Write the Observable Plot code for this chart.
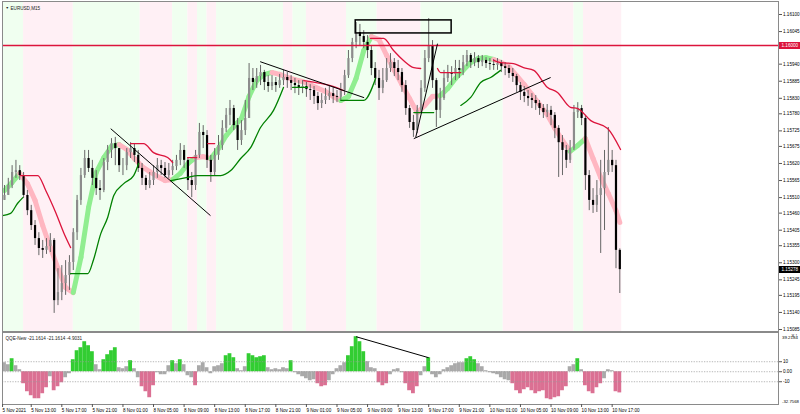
<!DOCTYPE html>
<html>
<head>
<meta charset="utf-8">
<script src="https://cdn.jsdelivr.net/npm/d3@7"></script>
<script src="https://cdn.jsdelivr.net/npm/@observablehq/plot@0.6"></script>
<style>
  html,body{margin:0;padding:0;background:#fff;}
  #chart{position:relative;width:800px;height:414px;overflow:hidden;}
  #chart svg{position:absolute;left:0;}
  .tag{position:absolute;left:779px;width:21px;height:7px;font-family:"Liberation Sans",Arial,sans-serif;font-size:4.6px;color:#fff;line-height:7px;padding-left:2.5px;box-sizing:border-box;}
</style>
</head>
<body>
<div id="chart"></div>
<script>
// ---------------- DATA ----------------
const symbolTitle = "EURUSD,M15";
const qqeName = "QQE-New";
const qqeLegendValues = [-21.1614, -21.1614, -4.9031];

// 30-minute bars, bar index 1..162
const firstOpen = 1.15501;
const closePrice = [
1.15517,1.15549,1.15591,1.15597,1.15581,1.15517,1.15468,1.15420,1.15378,1.15346,
1.15340,1.15352,1.15372,1.15178,1.15204,1.15233,1.15259,1.15301,1.15397,1.15501,
1.15581,1.15636,1.15604,1.15572,1.15539,1.15533,1.15623,1.15662,1.15684,1.15668,
1.15613,1.15613,1.15655,1.15668,1.15646,1.15604,1.15572,1.15549,1.15565,1.15591,
1.15613,1.15604,1.15581,1.15597,1.15610,1.15630,1.15662,1.15630,1.15565,1.15549,
1.15646,1.15720,1.15710,1.15630,1.15591,1.15646,1.15678,1.15733,1.15775,1.15797,
1.15742,1.15694,1.15726,1.15765,1.15894,1.15881,1.15900,1.15913,1.15881,1.15868,
1.15881,1.15871,1.15887,1.15897,1.15887,1.15878,1.15871,1.15862,1.15868,1.15858,
1.15855,1.15836,1.15813,1.15823,1.15836,1.15845,1.15836,1.15833,1.15855,1.15903,
1.15958,1.16010,1.16042,1.16029,1.16010,1.15984,1.15926,1.15894,1.15862,1.15887,
1.15926,1.15945,1.15926,1.15913,1.15871,1.15797,1.15752,1.15726,1.15791,1.15862,
1.15958,1.16000,1.15887,1.15791,1.15829,1.15894,1.15913,1.15907,1.15926,1.15920,
1.15945,1.15968,1.15945,1.15958,1.15945,1.15952,1.15942,1.15939,1.15936,1.15942,
1.15932,1.15926,1.15910,1.15900,1.15871,1.15849,1.15836,1.15829,1.15823,1.15813,
1.15797,1.15784,1.15791,1.15775,1.15733,1.15687,1.15662,1.15630,1.15668,1.15784,
1.15797,1.15765,1.15581,1.15501,1.15485,1.15517,1.15539,1.15591,1.15630,1.15613,
1.15340,1.15278];
const highPrice = [
1.15549,1.15572,1.15613,1.15630,1.15613,1.15591,1.15533,1.15485,1.15436,1.15397,
1.15372,1.15378,1.15394,1.15378,1.15281,1.15291,1.15307,1.15323,1.15410,1.15517,
1.15604,1.15662,1.15662,1.15630,1.15597,1.15565,1.15636,1.15678,1.15700,1.15704,
1.15668,1.15636,1.15668,1.15687,1.15684,1.15662,1.15620,1.15581,1.15591,1.15613,
1.15636,1.15630,1.15623,1.15620,1.15630,1.15646,1.15684,1.15678,1.15636,1.15591,
1.15662,1.15749,1.15742,1.15726,1.15646,1.15668,1.15710,1.15758,1.15797,1.15823,
1.15807,1.15765,1.15758,1.15823,1.15942,1.15926,1.15926,1.15936,1.15920,1.15903,
1.15903,1.15897,1.15907,1.15920,1.15913,1.15903,1.15894,1.15887,1.15887,1.15881,
1.15874,1.15868,1.15849,1.15845,1.15862,1.15868,1.15865,1.15855,1.15878,1.15920,
1.15984,1.16023,1.16074,1.16068,1.16048,1.16032,1.16000,1.15945,1.15920,1.15926,
1.15958,1.15974,1.15958,1.15952,1.15926,1.15887,1.15807,1.15775,1.15807,1.15887,
1.15984,1.16087,1.16016,1.15894,1.15862,1.15920,1.15936,1.15932,1.15952,1.15952,
1.15968,1.15984,1.15974,1.15977,1.15968,1.15968,1.15961,1.15958,1.15955,1.15958,
1.15952,1.15945,1.15936,1.15926,1.15907,1.15881,1.15868,1.15855,1.15845,1.15839,
1.15823,1.15810,1.15810,1.15804,1.15784,1.15742,1.15710,1.15678,1.15694,1.15807,
1.15816,1.15807,1.15775,1.15597,1.15539,1.15565,1.15630,1.15662,1.15736,1.15662,
1.15630,1.15345];
const lowPrice = [
1.15501,1.15517,1.15539,1.15572,1.15565,1.15507,1.15452,1.15404,1.15356,1.15323,
1.15314,1.15327,1.15333,1.15137,1.15162,1.15178,1.15195,1.15211,1.15275,1.15372,
1.15485,1.15572,1.15591,1.15549,1.15517,1.15501,1.15526,1.15597,1.15636,1.15613,
1.15591,1.15581,1.15597,1.15636,1.15623,1.15591,1.15549,1.15533,1.15539,1.15549,
1.15572,1.15581,1.15572,1.15572,1.15581,1.15597,1.15613,1.15604,1.15533,1.15510,
1.15533,1.15636,1.15668,1.15604,1.15559,1.15581,1.15630,1.15662,1.15720,1.15742,
1.15726,1.15662,1.15678,1.15710,1.15765,1.15855,1.15862,1.15871,1.15855,1.15849,
1.15855,1.15849,1.15862,1.15871,1.15862,1.15855,1.15845,1.15839,1.15845,1.15833,
1.15823,1.15810,1.15791,1.15797,1.15810,1.15823,1.15813,1.15816,1.15823,1.15839,
1.15894,1.15945,1.15990,1.16000,1.15990,1.15958,1.15903,1.15871,1.15823,1.15845,
1.15881,1.15913,1.15900,1.15887,1.15849,1.15775,1.15733,1.15704,1.15716,1.15784,
1.15849,1.15945,1.15862,1.15736,1.15765,1.15823,1.15881,1.15871,1.15887,1.15894,
1.15903,1.15932,1.15926,1.15932,1.15926,1.15932,1.15926,1.15920,1.15920,1.15920,
1.15913,1.15903,1.15894,1.15881,1.15849,1.15823,1.15816,1.15804,1.15797,1.15791,
1.15775,1.15765,1.15768,1.15742,1.15700,1.15575,1.15581,1.15604,1.15620,1.15662,
1.15765,1.15742,1.15533,1.15468,1.15459,1.15462,1.15330,1.15404,1.15581,1.15591,
1.15281,1.15201];

// thick trend moving average (1 = rising/green, -1 = falling/pink)
const maBar = [1,3,5,7,9,11,13,15,17,19,21,23,25,27,29,31,33,35,37,39,41,43,45,47,49,51,53,55,57,59,
61,63,65,67,69,71,73,75,77,79,81,83,85,87,89,91,93,95,97,99,101,103,105,107,109,111,113,115,117,119,
121,123,125,127,129,131,133,135,137,139,141,143,145,147,149,151,153,155,157,159,161,162];
const maPrice = [
1.15533,1.15559,1.15588,1.15555,1.15501,1.15420,1.15349,1.15282,1.15220,1.15204,
1.15317,1.15478,1.15591,1.15639,1.15675,1.15681,1.15665,1.15636,1.15610,1.15594,
1.15578,1.15565,1.15568,1.15588,1.15620,1.15639,1.15642,1.15636,1.15668,1.15710,
1.15739,1.15765,1.15836,1.15887,1.15907,1.15913,1.15907,1.15897,1.15890,1.15884,
1.15874,1.15862,1.15852,1.15836,1.15823,1.15836,1.15894,1.15984,1.16029,1.16019,
1.15968,1.15920,1.15874,1.15829,1.15784,1.15807,1.15836,1.15838,1.15862,1.15894,
1.15920,1.15945,1.15958,1.15961,1.15955,1.15945,1.15932,1.15903,1.15874,1.15842,
1.15810,1.15778,1.15733,1.15694,1.15659,1.15678,1.15700,1.15636,1.15575,1.15523,
1.15468,1.15430];
const maTrend = [
1,1,-1,-1,-1,-1,-1,-1,-1,1, 1,1,1,1,1,-1,-1,-1,-1,-1,
-1,-1,1,1,1,-1,-1,1,1,1, 1,1,1,1,1,-1,-1,-1,-1,-1,
-1,-1,-1,-1,1,1,1,1,-1,-1, -1,-1,-1,-1,-1,-1,-1,1,1,1,
1,1,1,1,-1,-1,-1,-1,-1,-1, -1,-1,-1,-1,1,1,-1,-1,-1,-1,
-1,-1];

// upper trailing line (red) and lower trailing line (dark green); null = gap
const upperBar = [5.2,9.7,11.8,14.4,16.5,18.3,null,34,37.4,40,43.7,45,null,48.9,51.3,null,54.2,56,null,
79.3,83.7,87.7,89.7,null,96.8,100.2,102.8,105.4,108.1,109.9,null,114.3,115.1,120.4,null,
129,130.8,134.2,136.8,139.5,143.1,145.7,149.1,151,154.4,158.8,162.2];
const upperPrice = [1.15581,1.15581,1.15533,1.15462,1.15397,1.15349,null,1.15684,1.15684,1.15655,1.15639,1.15623,null,1.15639,1.15639,null,1.15684,1.15684,null,
1.15887,1.15878,1.15865,1.15855,null,1.16023,1.16023,1.15984,1.15952,1.15929,1.15926,null,1.15926,1.15913,1.15913,null,
1.15952,1.15945,1.15942,1.15929,1.15920,1.15865,1.15849,1.15801,1.15797,1.15758,1.15733,1.15665];
const lowerBar = [0.5,2.6,4.4,5.8,null,18.3,22.8,24.3,26.2,28,29.6,32.2,34.8,36.1,null,
44.5,48.9,51.5,57.6,60.2,62.8,65.4,68,71.4,74,null,76.4,80.3,null,89,95,98.1,null,108.1,113.3,null,
120.4,123,125.6,128.2,130.8];
const lowerPrice = [1.15452,1.15459,1.15491,1.15510,null,1.15265,1.15265,1.15310,1.15394,1.15446,1.15517,1.15555,1.15581,1.15620,null,
1.15565,1.15575,1.15581,1.15581,1.15597,1.15636,1.15671,1.15736,1.15791,1.15865,null,1.15865,1.15865,null,1.15823,1.15823,1.15894,null,1.15784,1.15784,null,
1.15807,1.15833,1.15881,1.15897,1.15920];

// background trend zones (bar edges) and their direction
const zoneEdges = [0.5,6,19,36.5,45,49,51.5,54,56.5,74,76.5,80,90.5,98.5,110,131.5,150,152.5,162.5];
const zoneUp = [1,0,1,0,1,0,1,0,1,0,1,0,1,0,1,0,1,0];

// drawn objects
const levelPrices = [1.16000];
const trendFromBar = [28.8, 67.9, 108.1, 108.6];
const trendFromPrice = [1.15732, 1.15948, 1.15700, 1.15704];
const trendToBar = [54.9, 95.1, 143.9, 114.3];
const trendToPrice = [1.15452, 1.15832, 1.15897, 1.16006];
const boxBars = [92.9, 118];
const boxPrices = [1.16039, 1.16081];

// price axis labels
const priceTicks = [1.16100,1.16045,1.15940,1.15885,1.15830,1.15780,1.15725,1.15675,1.15620,1.15565,
1.15510,1.15460,1.15405,1.15355,1.15300,1.15245,1.15195,1.15140,1.15085];

// QQE histogram (per 30-min bar)
const qqeValue = [
9,7,13,6,2,-12,-20,-24,-27,-27,
-22,-16,-5,-19,-15,-11,-6,-2,12,21,
24,30,26,20,7,2,12,17,21,24,
4,3,5,11,3,-6,-15,-20,-26,-14,
-1,-3,-3,6,11,8,12,7,-4,-6,
-14,6,9,4,-2,5,6,8,16,18,
14,3,1,5,18,16,14,15,16,4,
2,3,2,4,3,11,-1,-3,-5,-7,
-9,-8,-12,-15,-14,-9,-3,3,6,9,
16,25,35,30,20,10,4,3,-11,-14,
-12,-3,2,3,-1,-12,-19,-22,-15,-4,
5,14,-3,-6,-3,2,4,6,8,9,
9,13,15,12,8,5,1,-1,-2,-3,
-6,-8,-9,-12,-19,-22,-18,-16,-19,-22,
-20,-19,-27,-28,-26,-25,-19,-15,5,7,
13,2,-14,-20,-22,-16,-12,-7,2,1,
-20,-21.1614];
const qqeRange = [-32.7568, 39.2184];
const qqeLevels = [10, 0, -10];
const qqeLevelLabels = ["10", "0.00", "-10"];
const qqeExtremes = [39.2184, -32.7568];
const qqeLineBars = [93, 112];
const qqeLineValues = [35, 14];

// time axis
const timeTickBars = [0.5,8,16,24,32,40,48,56,64,72,80,88,96,104,112,120,128,136,144,152,160];
const timeTickLabels = ["5 Nov 2021","5 Nov 13:00","5 Nov 17:00","5 Nov 21:00","8 Nov 01:00","8 Nov 05:00",
"8 Nov 09:00","8 Nov 13:00","8 Nov 17:00","8 Nov 21:00","9 Nov 01:00","9 Nov 05:00","9 Nov 09:00",
"9 Nov 13:00","9 Nov 17:00","9 Nov 21:00","10 Nov 01:00","10 Nov 05:00","10 Nov 09:00","10 Nov 13:00","10 Nov 17:00"];

// ---------------- BUILD ----------------
const FONT = '"Liberation Sans", Arial, sans-serif';
const FS = 4.6;
const xDomain = [0.484, 203.52];
const yDomain = [1.150786, 1.161419];

const candles = closePrice.map((c, i) => ({bar: i + 1, open: i ? closePrice[i - 1] : firstOpen, close: c, high: highPrice[i], low: lowPrice[i]}));
const zones = zoneUp.map((u, i) => ({x1: zoneEdges[i], x2: zoneEdges[i + 1], up: u === 1}));
const maSegs = maBar.slice(0, -1).map((b, i) => ({x1: b, y1: maPrice[i], x2: maBar[i + 1], y2: maPrice[i + 1], up: maTrend[i] > 0}));
const upperPts = upperBar.map((b, i) => ({b, p: upperPrice[i]}));
const lowerPts = lowerBar.map((b, i) => ({b, p: lowerPrice[i]}));
const trends = trendFromBar.map((b, i) => ({x1: b, y1: trendFromPrice[i], x2: trendToBar[i], y2: trendToPrice[i]}));
const box = [{x1: boxBars[0], x2: boxBars[1], y1: boxPrices[0], y2: boxPrices[1]}];

const main = Plot.plot({
  width: 800, height: 332,
  marginLeft: 2, marginRight: 22, marginTop: 1, marginBottom: 1,
  x: {domain: xDomain, axis: null},
  y: {domain: yDomain, axis: null},
  style: {fontFamily: FONT, background: "transparent"},
  marks: [
    Plot.rect(zones, {x1: "x1", x2: "x2", y1: yDomain[0], y2: yDomain[1], fill: d => d.up ? "#f0fff0" : "#fff0f5"}),
    Plot.link(maSegs, {x1: "x1", y1: "y1", x2: "x2", y2: "y2", stroke: d => d.up ? "#90ee90" : "#ffb6c1", strokeWidth: 5, strokeLinecap: "round"}),
    Plot.ruleX(candles, {x: "bar", y1: "low", y2: "high", stroke: "#666", strokeWidth: 1}),
    Plot.ruleX(candles, {x: "bar", y1: "open", y2: "close", stroke: d => d.close >= d.open ? "#8c8c8c" : "#000", strokeWidth: 2.2}),
    Plot.line(upperPts, {x: "b", y: "p", stroke: "#dc143c", strokeWidth: 1.3, curve: "monotone-x"}),
    Plot.line(lowerPts, {x: "b", y: "p", stroke: "#008000", strokeWidth: 1.3, curve: "monotone-x"}),
    Plot.ruleY(levelPrices, {stroke: "#dc143c", strokeWidth: 1.6}),
    Plot.link(trends, {x1: "x1", y1: "y1", x2: "x2", y2: "y2", stroke: "#000", strokeWidth: 1}),
    Plot.rect(box, {x1: "x1", x2: "x2", y1: "y1", y2: "y2", fill: "none", stroke: "#000", strokeWidth: 1.5}),
    Plot.frame({stroke: "#8a8a8a"}),
    Plot.axisY(priceTicks, {anchor: "right", tickSize: 3, tickPadding: 1.5, tickFormat: d => d.toFixed(5), fontSize: FS, stroke: "#555"}),
    Plot.text(["▼"], {frameAnchor: "top-left", dx: 3, dy: 5, fontSize: 3.5, fill: "#222"}),
    Plot.text([symbolTitle], {frameAnchor: "top-left", dx: 8, dy: 5, fontSize: FS, textAnchor: "start", fill: "#222"})
  ]
});

const qqe = qqeValue.map((v, i) => ({bar: i + 1, v}));
const timeLabel = new Map(timeTickBars.map((b, i) => [b, timeTickLabels[i]]));
const levelLabel = new Map(qqeLevels.map((v, i) => [v, qqeLevelLabels[i]]));
const qqeLegend = [qqeName, ...qqeLegendValues.map(v => v.toFixed(4))].join(" ");

const lower = Plot.plot({
  width: 800, height: 84,
  marginLeft: 2, marginRight: 22, marginTop: 2, marginBottom: 10,
  x: {domain: xDomain, axis: null},
  y: {domain: qqeRange, axis: null},
  style: {fontFamily: FONT, background: "transparent"},
  marks: [
    Plot.rect(qqe, {x1: d => d.bar - 0.5, x2: d => d.bar + 0.5, y1: 0, y2: "v",
      fill: d => d.v > 10 ? "#32cd32" : d.v < -10 ? "#db7093" : "#a9a9a9"}),
    Plot.ruleY(qqeLevels, {stroke: "#999", strokeDasharray: "1.3,1.3", strokeWidth: 0.7}),
    Plot.link([0], {x1: () => qqeLineBars[0], y1: () => qqeLineValues[0], x2: () => qqeLineBars[1], y2: () => qqeLineValues[1], stroke: "#000", strokeWidth: 1}),
    Plot.frame({stroke: "#8a8a8a"}),
    Plot.axisX(timeTickBars, {anchor: "bottom", tickSize: 3, tickPadding: 1, tickFormat: d => timeLabel.get(d), textAnchor: "start", fontSize: FS, stroke: "#555"}),
    Plot.axisY(qqeLevels, {anchor: "right", tickSize: 3, tickPadding: 1.5, tickFormat: d => levelLabel.get(d), fontSize: FS, stroke: "#555"}),
    Plot.text(qqeExtremes.slice(0, 1), {y: d => d, frameAnchor: "right", dx: 3.5, dy: 5.5, textAnchor: "start", text: d => d.toFixed(4), fontSize: 4.4}),
    Plot.text(qqeExtremes.slice(1), {y: d => d, frameAnchor: "right", dx: 3.5, dy: -2.5, textAnchor: "start", text: d => d.toFixed(4), fontSize: 4.3}),
    Plot.text([qqeLegend], {frameAnchor: "top-left", dx: 3, dy: 4.5, fontSize: FS, textAnchor: "start", fill: "#222"})
  ]
});

const root = document.getElementById("chart");
main.style.top = "0px";
lower.style.top = "330px";
root.appendChild(main);
root.appendChild(lower);

// price tags on the right scale
const ys = main.scale("y");
function tag(text, price, color) {
  const d = document.createElement("div");
  d.className = "tag";
  d.textContent = text;
  d.style.background = color;
  d.style.top = (ys.apply(price) - 3.5) + "px";
  root.appendChild(d);
}
tag(levelPrices[0].toFixed(5), levelPrices[0], "#dc143c");
tag(closePrice[closePrice.length - 1].toFixed(5), closePrice[closePrice.length - 1], "#000");
</script>
</body>
</html>
